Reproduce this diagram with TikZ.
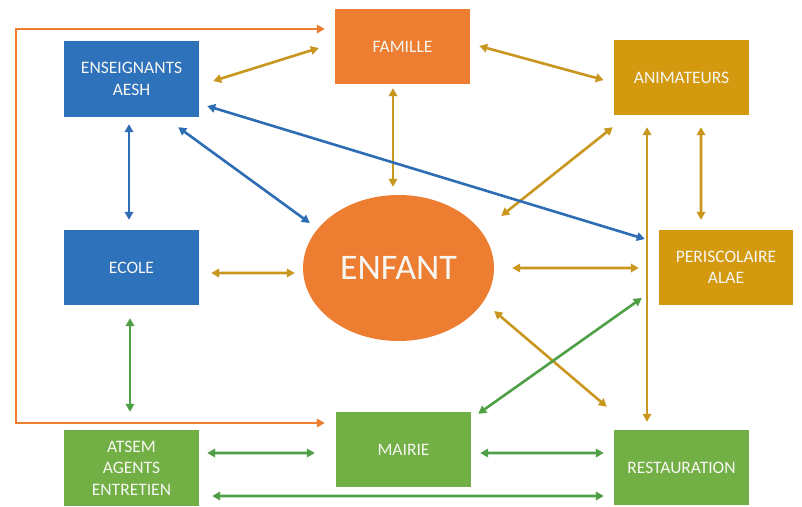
\documentclass[tikz,border=0pt]{standalone}
\usepackage{fontspec}
\setmainfont{Carlito}
\usetikzlibrary{arrows.meta,calc,shapes.geometric}
\definecolor{cblue}{HTML}{2F72BC}
\definecolor{corange}{HTML}{ED7D31}
\definecolor{cgold}{HTML}{D39A10}
\definecolor{cgreen}{HTML}{72B046}
\definecolor{ablue}{HTML}{2E6CB4}
\definecolor{agold}{HTML}{C9961E}
\definecolor{agreen}{HTML}{4E9F45}
\definecolor{txt}{HTML}{F6F6F2}
\begin{document}
\begin{tikzpicture}[x=1bp,y=-1bp,
  box/.style={rectangle,minimum width=135bp,minimum height=75bp,inner sep=0pt,
    text=txt,align=center,font=\fontsize{17.5bp}{21.5bp}\selectfont},
  conn/.style={line width=2.6bp,{Triangle[length=8bp,width=8.5bp]}-{Triangle[length=8bp,width=8.5bp]}},
  bl/.style={conn,draw=ablue},
  go/.style={conn,draw=agold},
  gr/.style={conn,draw=agreen},
  orn/.style={conn,draw=corange}]
\useasboundingbox (0,0) rectangle (802,507);
\fill[white] (0,0) rectangle (802,507);
% nodes
\node[box,fill=cblue,minimum height=76bp] (ens) at (131.5,79) {ENSEIGNANTS\\AESH};
\node[box,fill=corange] (fam) at (402.5,46.5) {FAMILLE};
\node[box,fill=cgold] (ani) at (681.5,77.5) {ANIMATEURS};
\node[box,fill=cblue] (eco) at (131.5,267.5) {ECOLE};
\node[ellipse,fill=corange,minimum width=191bp,minimum height=146bp,inner sep=0pt,
  text=txt,font=\fontsize{36bp}{40bp}\selectfont] (enf) at (398.5,268) {ENFANT};
\node[box,fill=cgold,minimum width=134bp] (per) at (726,267.5) {PERISCOLAIRE\\ALAE};
\node[box,fill=cgreen] (mai) at (403.5,449.5) {MAIRIE};
\node[box,fill=cgreen,minimum height=76bp] (ats) at (131.5,468) {ATSEM\\AGENTS\\ENTRETIEN};
\node[box,fill=cgreen] (res) at (681.5,467.5) {RESTAURATION};
% orange frame connector
\coordinate (oc1) at (16,29);
\coordinate (oc2) at (16,423);
\draw[orn,line join=miter] ($(fam.west)+(-10,-17.5)$) -- (oc1) -- (oc2) -- ($(mai.west)+(-11,-26.5)$);
% gold connectors
\draw[go] ($(ens.east)+(14,2)$) -- ($(fam.west)+(-16,1.5)$);
\draw[go] ($(fam.east)+(9,-0.5)$) -- ($(ani.west)+(-10,2.5)$);
\draw[go] ($(fam.south)+(-9.5,4)$) -- ($(enf.north)+(-5.5,-8)$);
\draw[go] ($(ani.south west)+(-1,12)$) -- ($(enf.east)+(7,-52)$);
\draw[go] ($(ani.south)+(-34.5,12)$) -- ($(res.north)+(-34.5,-8)$);
\draw[go] ($(ani.south)+(19.5,12)$) -- ($(per.north)+(-25,-10)$);
\draw[go] ($(eco.east)+(12,5.5)$) -- ($(enf.west)+(-8,5)$);
\draw[go] ($(enf.east)+(18,0)$) -- ($(per.west)+(-20,0.5)$);
\draw[go] ($(enf.east)+(0,43)$) -- ($(res.north west)+(-7,-23)$);
% blue connectors
\draw[bl] ($(ens.south)+(-2.5,7)$) -- ($(eco.north)+(-2.5,-10)$);
\draw[bl] ($(ens.south east)+(-21,10)$) -- ($(enf.west)+(7,-45)$);
\draw[bl] ($(ens.east)+(8,27)$) -- ($(per.west)+(-14,-28.5)$);
% green connectors
\draw[gr] ($(per.west)+(-17,30.5)$) -- ($(mai.north east)+(7,2)$);
\draw[gr] ($(eco.south)+(-1.5,13)$) -- ($(ats.north)+(-1.5,-18)$);
\draw[gr] ($(ats.east)+(8,-15)$) -- ($(mai.west)+(-21,3.5)$);
\draw[gr] ($(mai.east)+(9,3.5)$) -- ($(res.west)+(-10,-14.5)$);
\draw[gr] ($(ats.east)+(13,28)$) -- ($(res.west)+(-10,28.5)$);
\end{tikzpicture}
\end{document}
